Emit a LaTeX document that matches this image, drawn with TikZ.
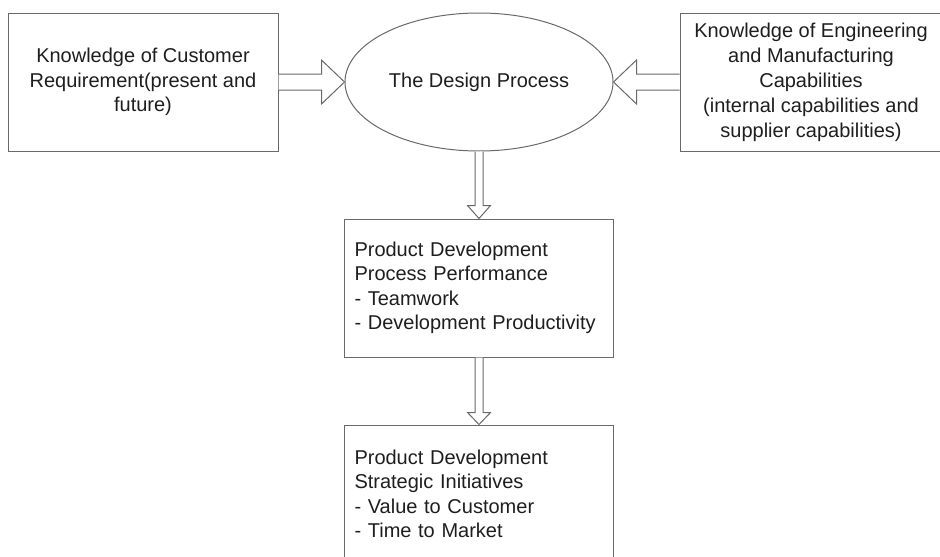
\documentclass[tikz,border=0pt]{standalone}
\usepackage{fontspec}
\setmainfont{Liberation Sans}
\usetikzlibrary{shapes.geometric,calc}

\definecolor{edgegray}{RGB}{105,105,105}
\definecolor{inkgray}{RGB}{30,30,30}

% Hollow block arrow from #1 to #2: shaft half-width #3, head half-width #4, head length #5
\newcommand\blockarrow[5]{%
  \path (#1) coordinate (ba-s) (#2) coordinate (ba-e);
  \path ($(ba-e)!#5!(ba-s)$) coordinate (ba-h);
  \draw[arrowline]
    ($(ba-s)!#3!90:(ba-e)$) -- ($(ba-h)!#3!-90:(ba-s)$) -- ($(ba-h)!#4!-90:(ba-s)$)
    -- (ba-e) -- ($(ba-h)!#4!90:(ba-s)$) -- ($(ba-h)!#3!90:(ba-s)$)
    -- ($(ba-s)!#3!-90:(ba-e)$);
}

\tikzset{
  box/.style={draw=edgegray, line width=1pt, rectangle, inner sep=0pt,
    text=inkgray, font=\fontsize{20}{24.5}\selectfont},
  centerbox/.style={box, align=center},
  listbox/.style={box, align=left, text width=#1},
  oval/.style={draw=edgegray, line width=1pt, ellipse, inner sep=0pt,
    text=inkgray, font=\fontsize{20}{24.5}\selectfont},
  arrowline/.style={draw=edgegray, line width=1pt, fill=white, line join=miter},
}

\begin{document}
\begin{tikzpicture}[x=1pt,y=-1pt]
  \useasboundingbox (0,0) rectangle (940,557);
  \clip (0,0) rectangle (940,557);

  % top row
  \node[centerbox, minimum width=270pt, minimum height=138pt] (cust) at (143,82)
    {Knowledge of Customer\\Requirement(present and\\future)};
  \node[oval, minimum width=268pt, minimum height=138pt] (design) at (479,82)
    {The Design Process};
  \node[centerbox, minimum width=266pt, minimum height=138pt] (eng) at (813,82) {};
  \node[align=center, text=inkgray, font=\fontsize{20}{25}\selectfont, inner sep=0pt]
    (engtext) at (811,82)
    {Knowledge of Engineering\\and Manufacturing\\Capabilities\\(internal capabilities and\\supplier capabilities)};

  % vertical chain
  \node[listbox=249pt, inner xsep=10pt, minimum width=269pt, minimum height=138pt]
    (perf) at (479,288)
    {Product Development\\Process Performance\\- Teamwork\\- Development Productivity};
  \node[listbox=249pt, inner xsep=10pt, minimum width=269pt, minimum height=138pt]
    (strat) at (479,494)
    {Product Development\\Strategic Initiatives\\- Value to Customer\\- Time to Market};

  % block arrows
  \blockarrow{cust.east}{design.west}{8pt}{22pt}{23pt}
  \blockarrow{eng.west}{design.east}{8pt}{22pt}{23pt}
  \blockarrow{design.south}{perf.north}{4pt}{11.5pt}{13pt}
  \blockarrow{perf.south}{strat.north}{4pt}{11.5pt}{12pt}
\end{tikzpicture}
\end{document}
